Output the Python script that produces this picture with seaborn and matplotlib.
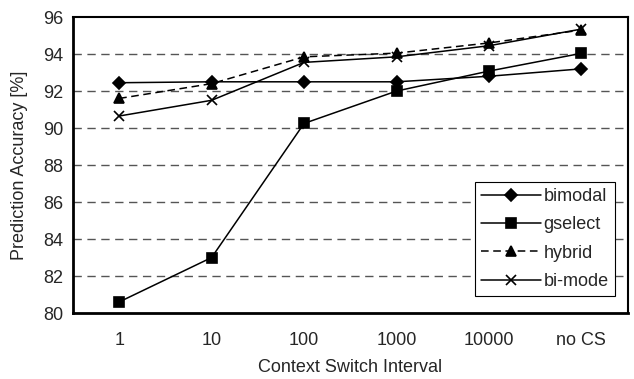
import seaborn as sns
import matplotlib.pyplot as plt
from matplotlib.ticker import FixedLocator

# data
intervals = ["1", "10", "100", "1000", "10000", "no CS"]
bimodal = [92.45, 92.5, 92.5, 92.5, 92.8, 93.2]
gselect = [80.6, 83.0, 90.25, 92.0, 93.08, 94.04]
hybrid = [91.6, 92.4, 93.85, 94.05, 94.6, 95.3]
bimode = [90.65, 91.5, 93.55, 93.85, 94.45, 95.35]

sns.set_style("white")
plt.rcParams['font.family'] = ['Liberation Sans', 'DejaVu Sans']
fs = 13

fig, ax = plt.subplots(figsize=(6.34, 3.79), dpi=100)
fig.subplots_adjust(left=0.115, right=0.99, top=0.955, bottom=0.174)

series = [
    ("bimodal", bimodal, "D", "-", 6),
    ("gselect", gselect, "s", "-", 7),
    ("hybrid", hybrid, "^", (0, (5, 3)), 7),
    ("bi-mode", bimode, "x", "-", 7),
]
for name, vals, mk, ls, ms in series:
    sns.lineplot(x=intervals, y=vals, ax=ax, color="black", marker=mk,
                 linestyle=ls, markersize=ms, linewidth=1.1, label=name,
                 markeredgecolor="black", markeredgewidth=1.2)

ax.set_xlim(-0.5, 5.5)
ax.set_ylim(80, 96)
ax.set_yticks(range(80, 97, 2))
for y in range(82, 96, 2):
    ax.axhline(y, color="#555555", linestyle=(0, (6, 4)), linewidth=1.0, zorder=0)

ax.tick_params(axis="x", which="major", length=0, labelsize=fs, pad=14)
ax.tick_params(axis="y", which="major", length=0, labelsize=fs, pad=7)
ax.xaxis.set_minor_locator(FixedLocator([0.5, 1.5, 2.5, 3.5, 4.5]))
ax.tick_params(axis="x", which="minor", direction="in", length=5, width=1, color="black")

for s in ax.spines.values():
    s.set_color("black")
    s.set_linewidth(1.5)
ax.spines["left"].set_linewidth(2)
ax.spines["bottom"].set_linewidth(2)

ax.set_xlabel("Context Switch Interval", fontsize=fs, labelpad=7)
ax.set_ylabel("Prediction Accuracy [%]", fontsize=fs, labelpad=11)

leg = ax.legend(loc="lower right", bbox_to_anchor=(0.977, 0.057), fontsize=fs,
                frameon=True, fancybox=False, edgecolor="black", framealpha=1,
                borderaxespad=0, handlelength=3.3, borderpad=0.35,
                labelspacing=0.62, handletextpad=0.15)
leg.get_frame().set_linewidth(0.8)

plt.savefig("out.png", dpi=100)
